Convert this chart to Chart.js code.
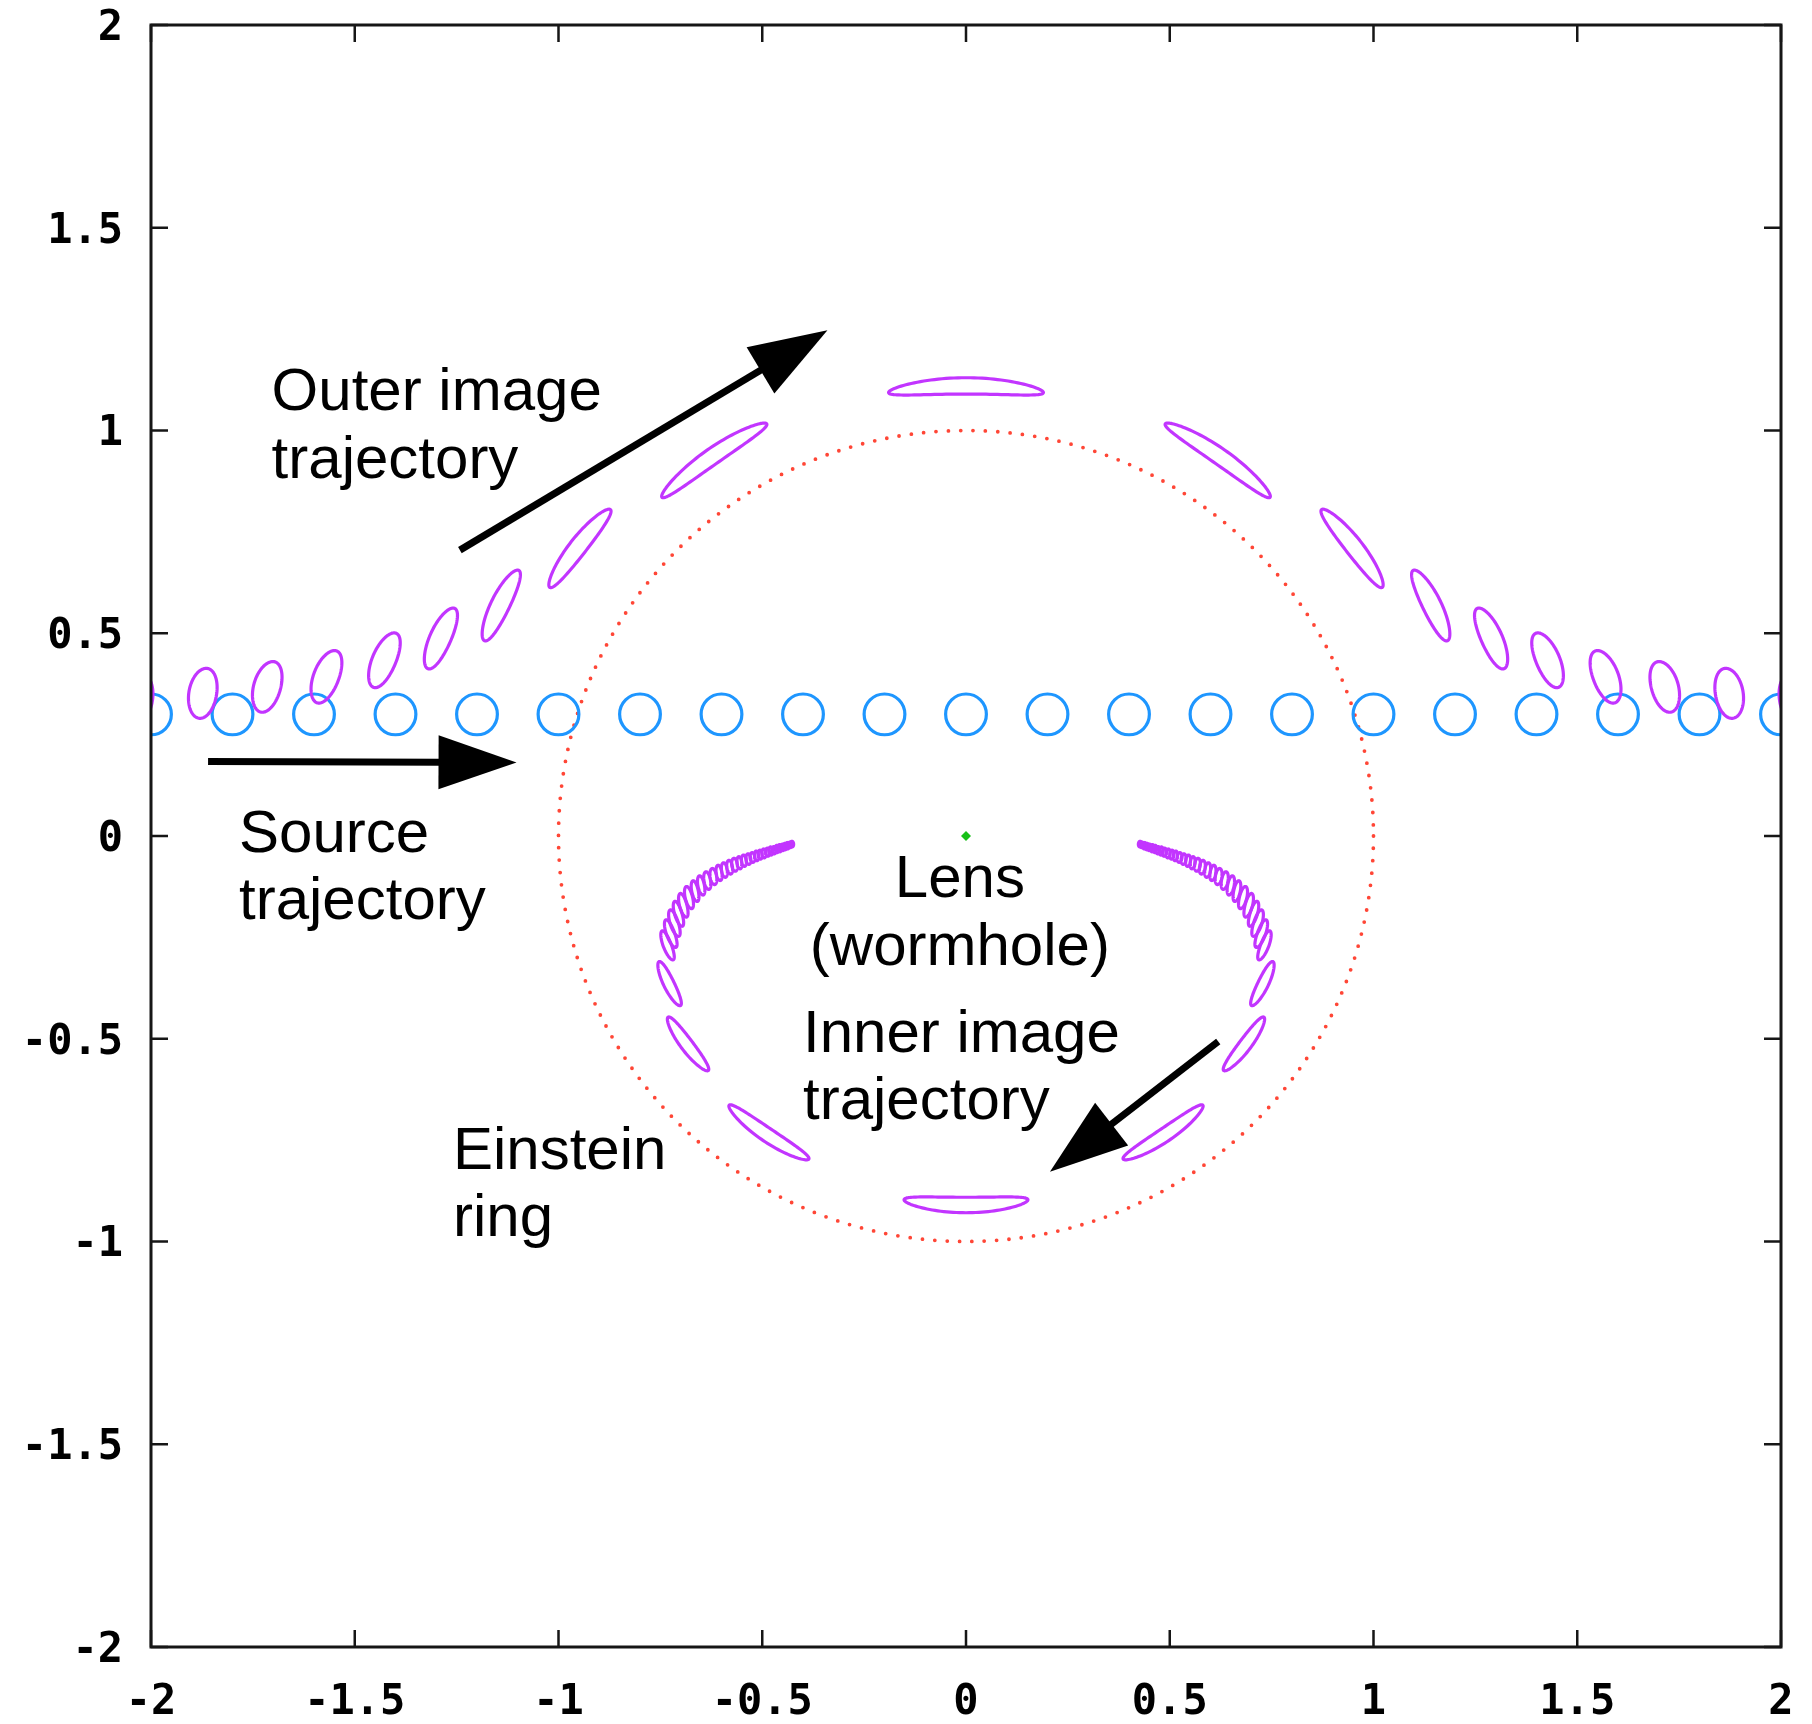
<!DOCTYPE html>
<html>
<head>
<meta charset="utf-8">
<script src="https://cdn.jsdelivr.net/npm/chart.js@4.4.1/dist/chart.umd.min.js"></script>
<style>
  html, body { margin: 0; padding: 0; background: #ffffff; }
  #wrap { width: 1812px; height: 1724px; position: relative; }
</style>
</head>
<body>
<div id="wrap"><canvas id="lensChart" width="1812" height="1724"></canvas></div>
<script>
// ---- axis ticks ----
const tickValues = [-2, -1.5, -1, -0.5, 0, 0.5, 1, 1.5, 2];
const tickLabels = ['-2', '-1.5', '-1', '-0.5', '0', '0.5', '1', '1.5', '2'];

// ---- source trajectory (circular source, radius in angular units) ----
const sourceX = [-2, -1.8, -1.6, -1.4, -1.2, -1, -0.8, -0.6, -0.4, -0.2, 0, 0.2, 0.4, 0.6, 0.8, 1, 1.2, 1.4, 1.6, 1.8, 2];
const sourceY = [0.3, 0.3, 0.3, 0.3, 0.3, 0.3, 0.3, 0.3, 0.3, 0.3, 0.3, 0.3, 0.3, 0.3, 0.3, 0.3, 0.3, 0.3, 0.3, 0.3, 0.3];
const sourceRadius = 0.05;

// ---- lens (wormhole) and Einstein ring ----
const lensX = [0];
const lensY = [0];
const einsteinRadius = 1;

// ---- outer images: centre, semi-major, semi-minor, tilt of major axis (deg) ----
const outerX = [-2.03, -1.873, -1.715, -1.570, -1.428, -1.290, -1.143, -0.952, -0.624, 0, 0.624, 0.952, 1.143, 1.290, 1.428, 1.570, 1.715, 1.873, 2.03];
const outerY = [0.340, 0.352, 0.368, 0.393, 0.434, 0.488, 0.570, 0.713, 0.935, 1.110, 0.935, 0.713, 0.570, 0.488, 0.434, 0.393, 0.368, 0.352, 0.340];
const outerMajor = [0.060, 0.062, 0.064, 0.068, 0.072, 0.081, 0.096, 0.121, 0.157, 0.190, 0.157, 0.121, 0.096, 0.081, 0.072, 0.068, 0.064, 0.062, 0.060];
const outerMinor = [0.034, 0.034, 0.033, 0.031, 0.029, 0.026, 0.023, 0.021, 0.020, 0.020, 0.020, 0.021, 0.023, 0.026, 0.029, 0.031, 0.033, 0.034, 0.034];
const outerTilt = [82, 80, 74, 69, 67, 66, 64, 52, 35, 0, -35, -52, -64, -66, -67, -69, -74, -80, -82];

// ---- inner images: left arm (top to bottom), bottom, right arm (bottom to top) ----
const innerX = [
  -0.427, -0.432, -0.438, -0.444, -0.450, -0.457, -0.464, -0.471, -0.479, -0.487, -0.496, -0.505,
  -0.514, -0.524, -0.534, -0.545, -0.556, -0.568, -0.580, -0.593, -0.606, -0.620, -0.635, -0.650,
  -0.665, -0.680, -0.694, -0.706, -0.716, -0.725, -0.733, -0.729, -0.685, -0.488,
  0,
  0.488, 0.685, 0.729, 0.733, 0.725, 0.716, 0.706, 0.694, 0.680, 0.665, 0.650, 0.635,
  0.620, 0.606, 0.593, 0.580, 0.568, 0.556, 0.545, 0.534, 0.524, 0.514, 0.505, 0.496,
  0.487, 0.479, 0.471, 0.464, 0.457, 0.450, 0.444, 0.438, 0.432, 0.427
];
const innerY = [
  -0.020, -0.022, -0.024, -0.026, -0.028, -0.030, -0.032, -0.035, -0.037, -0.040, -0.043, -0.046,
  -0.049, -0.053, -0.057, -0.061, -0.066, -0.071, -0.077, -0.084, -0.091, -0.100, -0.110, -0.122,
  -0.136, -0.152, -0.171, -0.192, -0.215, -0.241, -0.270, -0.365, -0.515, -0.737,
  -0.910,
  -0.737, -0.515, -0.365, -0.270, -0.241, -0.215, -0.192, -0.171, -0.152, -0.136, -0.122, -0.110,
  -0.100, -0.091, -0.084, -0.077, -0.071, -0.066, -0.061, -0.057, -0.053, -0.049, -0.046, -0.043,
  -0.040, -0.037, -0.035, -0.032, -0.030, -0.028, -0.026, -0.024, -0.022, -0.020
];
const innerMajor = [
  0.007, 0.007, 0.008, 0.008, 0.008, 0.009, 0.009, 0.009, 0.010, 0.010, 0.011, 0.011,
  0.012, 0.012, 0.013, 0.014, 0.015, 0.016, 0.017, 0.018, 0.019, 0.020, 0.022, 0.024,
  0.026, 0.028, 0.030, 0.032, 0.034, 0.036, 0.038, 0.060, 0.082, 0.118,
  0.152,
  0.118, 0.082, 0.060, 0.038, 0.036, 0.034, 0.032, 0.030, 0.028, 0.026, 0.024, 0.022,
  0.020, 0.019, 0.018, 0.017, 0.016, 0.015, 0.014, 0.013, 0.012, 0.012, 0.011, 0.011,
  0.010, 0.010, 0.009, 0.009, 0.009, 0.008, 0.008, 0.008, 0.007, 0.007
];
const innerMinor = [
  0.004, 0.004, 0.004, 0.004, 0.004, 0.004, 0.004, 0.005, 0.005, 0.005, 0.005, 0.005,
  0.005, 0.006, 0.006, 0.006, 0.006, 0.007, 0.007, 0.007, 0.007, 0.008, 0.008, 0.008,
  0.008, 0.009, 0.009, 0.009, 0.010, 0.010, 0.010, 0.013, 0.015, 0.017,
  0.019,
  0.017, 0.015, 0.013, 0.010, 0.010, 0.010, 0.009, 0.009, 0.009, 0.008, 0.008, 0.008,
  0.008, 0.007, 0.007, 0.007, 0.007, 0.006, 0.006, 0.006, 0.006, 0.005, 0.005, 0.005,
  0.005, 0.005, 0.005, 0.004, 0.004, 0.004, 0.004, 0.004, 0.004, 0.004
];
const innerTilt = [
  93, 93, 93, 93, 94, 94, 94, 94, 95, 95, 95, 95,
  96, 96, 96, 96, 97, 97, 98, 98, 99, 99, 100, 101,
  102, 104, 105, 107, 108, 110, 111, 116, 127, 146,
  0,
  34, 53, 64, 69, 70, 72, 73, 75, 76, 78, 79, 80,
  81, 81, 82, 82, 83, 83, 84, 84, 84, 84, 85, 85,
  85, 85, 86, 86, 86, 86, 87, 87, 87, 87
];

// ---- annotation layout (data coordinates) ----
const annotationText = [
  { text: 'Outer image', x: -1.704, y: 1.051, align: 'left' },
  { text: 'trajectory',  x: -1.704, y: 0.883, align: 'left' },
  { text: 'Source',      x: -1.784, y: -0.040, align: 'left' },
  { text: 'trajectory',  x: -1.784, y: -0.205, align: 'left' },
  { text: 'Lens',        x: -0.015, y: -0.150, align: 'center' },
  { text: '(wormhole)',  x: -0.015, y: -0.318, align: 'center' },
  { text: 'Inner image', x: -0.400, y: -0.533, align: 'left' },
  { text: 'trajectory',  x: -0.400, y: -0.698, align: 'left' },
  { text: 'Einstein',    x: -1.259, y: -0.821, align: 'left' },
  { text: 'ring',        x: -1.259, y: -0.986, align: 'left' }
];
const annotationArrows = [
  { from: [-1.242, 0.705], to: [-0.340, 1.247] },
  { from: [-1.860, 0.184], to: [-1.103, 0.181] },
  { from: [0.619, -0.507], to: [0.206, -0.828] }
];

const COLORS = {
  source: '#1e96ff',
  image: '#c235ff',
  ring: '#ff4636',
  lens: '#18c018',
  frame: '#161616',
  text: '#000000'
};

function pxLen(scale, v) {
  return Math.abs(scale.getPixelForValue(v) - scale.getPixelForValue(0));
}

// Image outline: ellipse bent around the lens centre
function drawImageOutline(ctx, cx, cy, ax, bx, tiltDeg, lx, ly) {
  const t = tiltDeg * Math.PI / 180;
  const ux = Math.cos(t), uy = -Math.sin(t);
  let nx = -uy, ny = ux;
  const dx = cx - lx, dy = cy - ly;
  if (nx * dx + ny * dy < 0) { nx = -nx; ny = -ny; }
  const R = Math.max(Math.hypot(dx, dy), 1);
  ctx.beginPath();
  const N = 120;
  for (let i = 0; i <= N; i++) {
    const s = i / N * Math.PI * 2;
    const u = ax * Math.cos(s);
    const v = bx * Math.sin(s) - u * u / (2 * R);
    const px = cx + u * ux + v * nx;
    const py = cy + u * uy + v * ny;
    if (i === 0) ctx.moveTo(px, py); else ctx.lineTo(px, py);
  }
  ctx.closePath();
  ctx.stroke();
}

function drawArrow(ctx, x0, y0, x1, y1) {
  const ang = Math.atan2(y1 - y0, x1 - x0);
  const headLen = 78, headHalf = 27;
  const bx = x1 - headLen * Math.cos(ang), by = y1 - headLen * Math.sin(ang);
  ctx.save();
  ctx.strokeStyle = '#000';
  ctx.fillStyle = '#000';
  ctx.lineWidth = 7;
  ctx.lineCap = 'butt';
  ctx.beginPath();
  ctx.moveTo(x0, y0);
  ctx.lineTo(bx + 2 * Math.cos(ang), by + 2 * Math.sin(ang));
  ctx.stroke();
  ctx.beginPath();
  ctx.moveTo(x1, y1);
  ctx.lineTo(bx + headHalf * Math.sin(ang), by - headHalf * Math.cos(ang));
  ctx.lineTo(bx - headHalf * Math.sin(ang), by + headHalf * Math.cos(ang));
  ctx.closePath();
  ctx.fill();
  ctx.restore();
}

const lensPlot = {
  id: 'lensPlot',
  beforeDatasetsDraw(chart) {
    const { ctx, chartArea: a, scales: { x, y } } = chart;
    // Einstein ring (dotted)
    ctx.save();
    ctx.beginPath();
    ctx.rect(a.left, a.top, a.right - a.left, a.bottom - a.top);
    ctx.clip();
    ctx.strokeStyle = COLORS.ring;
    ctx.lineWidth = 3.8;
    ctx.lineCap = 'round';
    ctx.setLineDash([0, 12.4]);
    ctx.beginPath();
    ctx.ellipse(x.getPixelForValue(lensX[0]), y.getPixelForValue(lensY[0]),
      pxLen(x, einsteinRadius), pxLen(y, einsteinRadius), 0, 0, Math.PI * 2);
    ctx.stroke();
    ctx.restore();
  },
  afterDatasetsDraw(chart) {
    const { ctx, chartArea: a, scales: { x, y } } = chart;
    const lx = x.getPixelForValue(lensX[0]), ly = y.getPixelForValue(lensY[0]);

    // lensed images
    ctx.save();
    ctx.beginPath();
    ctx.rect(a.left, a.top, a.right - a.left, a.bottom - a.top);
    ctx.clip();
    ctx.strokeStyle = COLORS.image;
    ctx.lineWidth = 3.2;
    ctx.lineJoin = 'round';
    chart.data.datasets.forEach((ds, di) => {
      if (!ds.imageShape) return;
      const meta = chart.getDatasetMeta(di);
      meta.data.forEach((el, i) => {
        drawImageOutline(ctx, el.x, el.y,
          Math.max(pxLen(x, ds.imageShape.major[i]), 1),
          Math.max(pxLen(x, ds.imageShape.minor[i]), 1),
          ds.imageShape.tilt[i], lx, ly);
      });
    });
    ctx.restore();

    // frame and inward ticks on all four sides
    ctx.save();
    ctx.strokeStyle = COLORS.frame;
    ctx.lineWidth = 3;
    ctx.strokeRect(a.left, a.top, a.right - a.left, a.bottom - a.top);
    ctx.lineWidth = 2.5;
    const tl = 17;
    ctx.beginPath();
    x.ticks.forEach(t => {
      const px = x.getPixelForValue(t.value);
      ctx.moveTo(px, a.bottom); ctx.lineTo(px, a.bottom - tl);
      ctx.moveTo(px, a.top); ctx.lineTo(px, a.top + tl);
    });
    y.ticks.forEach(t => {
      const py = y.getPixelForValue(t.value);
      ctx.moveTo(a.left, py); ctx.lineTo(a.left + tl, py);
      ctx.moveTo(a.right, py); ctx.lineTo(a.right - tl, py);
    });
    ctx.stroke();
    ctx.restore();

    // annotations
    ctx.save();
    ctx.fillStyle = COLORS.text;
    ctx.font = '60px "Liberation Sans", Arial, sans-serif';
    ctx.textBaseline = 'alphabetic';
    annotationText.forEach(t => {
      ctx.textAlign = t.align;
      ctx.fillText(t.text, x.getPixelForValue(t.x), y.getPixelForValue(t.y));
    });
    ctx.restore();
    annotationArrows.forEach(ar => {
      drawArrow(ctx,
        x.getPixelForValue(ar.from[0]), y.getPixelForValue(ar.from[1]),
        x.getPixelForValue(ar.to[0]), y.getPixelForValue(ar.to[1]));
    });
  }
};

const tickFont = { family: '"DejaVu Sans Mono", monospace', weight: 'bold', size: 42 };

new Chart(document.getElementById('lensChart'), {
  type: 'scatter',
  data: {
    datasets: [
      {
        label: 'Source trajectory',
        data: sourceX.map((v, i) => ({ x: v, y: sourceY[i] })),
        pointStyle: 'circle',
        pointRadius: (c) => pxLen(c.chart.scales.x, sourceRadius),
        pointHoverRadius: (c) => pxLen(c.chart.scales.x, sourceRadius),
        pointBorderWidth: 3.2,
        pointBorderColor: COLORS.source,
        pointBackgroundColor: 'rgba(0,0,0,0)',
        borderColor: COLORS.source,
        showLine: false,
        clip: 0
      },
      {
        label: 'Lens',
        data: lensX.map((v, i) => ({ x: v, y: lensY[i] })),
        pointStyle: 'rectRot',
        pointRadius: 5,
        pointBorderWidth: 0,
        pointBackgroundColor: COLORS.lens,
        showLine: false,
        clip: 0
      },
      {
        label: 'Outer images',
        data: outerX.map((v, i) => ({ x: v, y: outerY[i] })),
        imageShape: { major: outerMajor, minor: outerMinor, tilt: outerTilt },
        pointRadius: 0,
        pointHoverRadius: 0,
        showLine: false,
        clip: 0
      },
      {
        label: 'Inner images',
        data: innerX.map((v, i) => ({ x: v, y: innerY[i] })),
        imageShape: { major: innerMajor, minor: innerMinor, tilt: innerTilt },
        pointRadius: 0,
        pointHoverRadius: 0,
        showLine: false,
        clip: 0
      }
    ]
  },
  options: {
    responsive: false,
    animation: false,
    events: [],
    layout: { padding: { left: 0, right: 31, top: 25, bottom: 0 } },
    plugins: { legend: { display: false }, tooltip: { enabled: false } },
    scales: {
      x: {
        type: 'linear',
        min: -2, max: 2,
        afterBuildTicks: (s) => { s.ticks = tickValues.map(v => ({ value: v })); },
        afterFit: (s) => { s.height = 77; s.paddingLeft = 0; s.paddingRight = 0; },
        ticks: {
          callback: (v) => tickLabels[tickValues.indexOf(v)],
          font: tickFont,
          color: '#000',
          padding: 31,
          maxRotation: 0,
          autoSkip: false
        },
        grid: { display: false, drawTicks: false },
        border: { display: false }
      },
      y: {
        type: 'linear',
        min: -2, max: 2,
        afterBuildTicks: (s) => { s.ticks = tickValues.map(v => ({ value: v })); },
        afterFit: (s) => { s.width = 151; s.paddingTop = 0; s.paddingBottom = 0; },
        ticks: {
          callback: (v) => tickLabels[tickValues.indexOf(v)],
          font: tickFont,
          color: '#000',
          padding: 28,
          labelOffset: 4,
          autoSkip: false
        },
        grid: { display: false, drawTicks: false },
        border: { display: false }
      }
    }
  },
  plugins: [lensPlot]
});
</script>
</body>
</html>
